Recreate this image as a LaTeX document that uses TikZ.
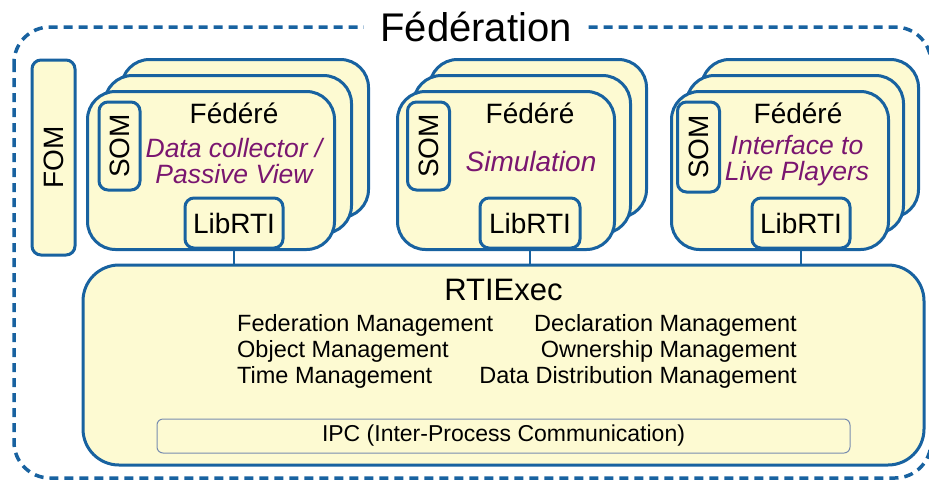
\documentclass[tikz,border=0pt]{standalone}
\usepackage{fontspec}
\setmainfont{Liberation Sans}
\definecolor{bl}{RGB}{24,98,160}
\definecolor{fillY}{RGB}{253,250,210}
\definecolor{purp}{RGB}{122,22,112}
\definecolor{ipcline}{RGB}{120,140,175}
\tikzset{
  box/.style={draw=bl, line width=3pt, fill=fillY, rounded corners=#1, inner sep=0pt},
  conn/.style={draw=bl, line width=2.5pt},
  fedlabel/.style={font=\fontsize{28}{30}\selectfont, inner sep=0pt},
  rolelabel/.style={font=\fontsize{26.5}{26}\selectfont\itshape, text=purp, align=center, inner sep=0pt},
  smallbox/.style={box=9pt, font=\fontsize{28}{30}\selectfont},
  mgmt/.style={font=\fontsize{23.5}{26}\selectfont, inner sep=0pt},
}
\begin{document}
\begin{tikzpicture}[x=1pt,y=-1pt]
\fill[white] (0,0) rectangle (929,480);
\useasboundingbox (0,0) rectangle (929,480);
% outer dashed federation border
\draw[bl, line width=3.5pt, dash pattern=on 9pt off 6pt, rounded corners=36pt] (14,27) rectangle (931,478);
\node[fill=white, inner xsep=16pt, inner ysep=2pt, font=\fontsize{40}{42}\selectfont] (title) at (476,27) {Fédération};
% FOM
\node[smallbox, rotate=90, minimum width=195pt, minimum height=43pt] (fom) at (53.5,157.5) {FOM};
% Federate group 1
\node[box=28pt, anchor=north west, minimum width=247pt, minimum height=158pt] (f1c) at (120,58) {};
\node[box=28pt, anchor=north west, minimum width=247pt, minimum height=158pt] (f1b) at (103,74) {};
\node[box=28pt, anchor=north west, minimum width=247pt, minimum height=158pt] (f1a) at (86,90) {};
\node[fedlabel] (f1t) at (234,113) {Fédéré};
\node[rolelabel] (f1r) at (234,161) {Data collector /\\Passive View};
\node[smallbox, rotate=90, minimum width=88pt, minimum height=41pt] (som1) at (119.5,146) {SOM};
\node[smallbox, minimum width=98pt, minimum height=50pt] (lib1) at (234,223) {LibRTI};
% Federate group 2
\node[box=28pt, anchor=north west, minimum width=217pt, minimum height=158pt] (f2c) at (428,58) {};
\node[box=28pt, anchor=north west, minimum width=217pt, minimum height=158pt] (f2b) at (412,74) {};
\node[box=28pt, anchor=north west, minimum width=217pt, minimum height=158pt] (f2a) at (396,90) {};
\node[fedlabel] (f2t) at (530,113) {Fédéré};
\node[rolelabel, font=\fontsize{28}{28}\selectfont\itshape] (f2r) at (531,161) {Simulation};
\node[smallbox, rotate=90, minimum width=88pt, minimum height=42pt] (som2) at (428.5,146) {SOM};
\node[smallbox, minimum width=100pt, minimum height=50pt] (lib2) at (530,223) {LibRTI};
% Federate group 3
\node[box=28pt, anchor=north west, minimum width=217pt, minimum height=158pt] (f3c) at (700,58) {};
\node[box=28pt, anchor=north west, minimum width=217pt, minimum height=158pt] (f3b) at (685,74) {};
\node[box=28pt, anchor=north west, minimum width=217pt, minimum height=158pt] (f3a) at (670,90) {};
\node[fedlabel] (f3t) at (798,113) {Fédéré};
\node[rolelabel] (f3r) at (797,161) {Interface to\\Live Players};
\node[smallbox, rotate=90, minimum width=90pt, minimum height=42pt] (som3) at (698.5,147) {SOM};
\node[smallbox, minimum width=98pt, minimum height=50pt] (lib3) at (801,223) {LibRTI};
% RTIExec
\node[box=36pt, minimum width=841pt, minimum height=200pt] (rti) at (503.5,365) {};
\node[font=\fontsize{31}{32}\selectfont, inner sep=0pt] (rtit) at (503.5,290) {RTIExec};
\node[mgmt, anchor=north west, align=left] (mleft) at (237,314) {Federation Management\\Object Management\\Time Management};
\node[mgmt, anchor=north east, align=right] (mright) at (797,314) {Declaration Management\\Ownership Management\\Data Distribution Management};
\node[draw=ipcline, line width=1pt, fill=fillY, rounded corners=6pt, minimum width=693pt, minimum height=34pt, font=\fontsize{23}{24}\selectfont] (ipc) at (503.5,436) {IPC (Inter-Process Communication)};
% connectors
\draw[conn] (lib1.south) -- (lib1.south |- rti.north);
\draw[conn] (lib2.south) -- (lib2.south |- rti.north);
\draw[conn] (lib3.south) -- (lib3.south |- rti.north);
\end{tikzpicture}
\end{document}
